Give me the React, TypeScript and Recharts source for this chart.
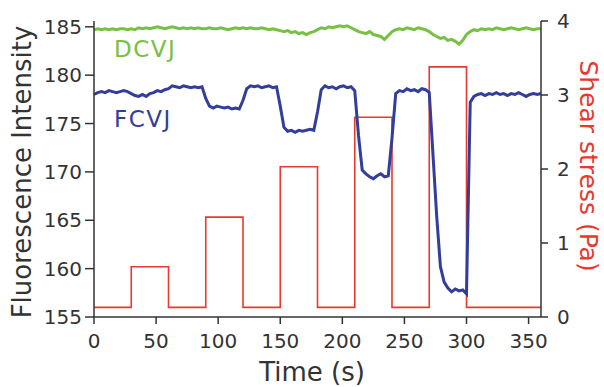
import { ComposedChart, Line, XAxis, YAxis } from "recharts";

// time grid (s)
const times = [
  0, 3, 6, 9, 12, 15, 18, 21, 24, 27,
  30, 33, 36, 39, 42, 45, 48, 51, 54, 57,
  60, 63, 66, 69, 72, 75, 78, 81, 84, 87,
  90, 93, 96, 99, 102, 105, 108, 111, 114, 117,
  120, 123, 126, 129, 132, 135, 138, 141, 144, 147,
  150, 153, 156, 159, 162, 165, 168, 171, 174, 177,
  180, 183, 186, 189, 192, 195, 198, 201, 204, 207,
  210, 213, 216, 219, 222, 225, 228, 231, 234, 237,
  240, 243, 246, 249, 252, 255, 258, 261, 264, 267,
  270, 273, 276, 279, 282, 285, 288, 291, 294, 297,
  300, 303, 306, 309, 312, 315, 318, 321, 324, 327,
  330, 333, 336, 339, 342, 345, 348, 351, 354, 357,
  360,
];

const dcvj = [
  184.7, 184.8, 184.7, 184.8, 184.7, 184.8, 184.7, 184.8, 184.8, 184.7,
  184.8, 184.7, 184.9, 184.8, 184.9, 184.8, 184.9, 185.0, 184.9, 184.8,
  184.9, 185.0, 184.9, 184.8, 184.9, 184.8, 184.9, 184.8, 184.9, 184.8,
  184.8, 184.9, 184.8, 184.8, 184.9, 184.8, 184.7, 184.8, 184.9, 184.8,
  184.9, 184.8, 184.9, 184.8, 184.8, 184.9, 184.8, 184.7, 184.8, 184.7,
  184.6, 184.5, 184.6, 184.4, 184.5, 184.3, 184.4, 184.2, 184.4, 184.5,
  184.7, 184.9, 184.8, 185.0, 184.9, 185.0, 185.1, 185.0, 185.1, 184.9,
  184.7, 184.5, 184.4, 184.3, 184.5, 184.2, 184.1, 184.0, 183.7, 184.1,
  184.5, 184.7, 184.8, 184.7, 184.9, 184.8, 184.7, 184.9, 184.8, 184.7,
  184.5, 184.2, 184.0, 183.8, 183.9, 183.6, 183.7, 183.5, 183.2, 183.6,
  184.2, 184.5, 184.7, 184.6, 184.8, 184.7, 184.8, 184.7, 184.9, 184.8,
  184.7, 184.8, 184.9, 184.8, 184.7, 184.8, 184.9, 184.8, 184.7, 184.8,
  184.8,
];

const fcvj = [
  178.0, 178.2, 178.3, 178.2, 178.4, 178.3, 178.2, 178.3, 178.4, 178.3,
  178.1, 177.9, 177.8, 178.0, 177.8, 178.1, 178.2, 178.4, 178.3, 178.5,
  178.6, 178.9, 178.8, 178.7, 178.9, 178.8, 178.7, 178.8, 178.7, 178.8,
  177.6, 176.8, 176.6, 176.8, 176.7, 176.6, 176.7, 176.5, 176.6, 176.5,
  177.4, 178.6, 178.9, 178.8, 178.9, 178.7, 178.8, 178.9, 178.7, 178.8,
  176.8, 174.6, 174.2, 174.3, 174.1, 174.3, 174.2, 174.3, 174.4, 174.3,
  176.2, 178.5, 178.9, 178.7, 178.8, 178.6, 178.8, 178.9, 178.7, 178.8,
  178.4, 173.8, 170.2, 169.8, 169.5, 169.3, 169.6, 169.8, 169.5, 169.6,
  173.5, 178.1, 178.4, 178.3, 178.6, 178.4, 178.5, 178.3, 178.6, 178.5,
  178.2, 171.8, 165.4, 160.2, 158.6, 158.0, 157.6, 157.9, 157.7, 157.8,
  157.4, 177.2, 177.8, 178.0, 178.1, 177.9, 178.1, 178.0, 178.2, 178.0,
  178.1, 177.9, 178.1, 178.0, 178.2, 178.0, 177.8, 178.0, 178.1, 178.0,
  178.1,
];

// shear stress steps (Pa), value holds until next time
const stressTimes = [0, 30, 60, 90, 120, 150, 180, 210, 240, 270, 300, 360];
const stressValues = [0.13, 0.68, 0.13, 1.35, 0.13, 2.03, 0.13, 2.7, 0.13, 3.38, 0.13, 0.13];

const xTicks = [0, 50, 100, 150, 200, 250, 300, 350];
const leftTicks = [155, 160, 165, 170, 175, 180, 185];
const rightTicks = [0, 1, 2, 3, 4];

const fluoData = times.map((t, i) => ({ t, dcvj: dcvj[i], fcvj: fcvj[i] }));
const stressData = stressTimes.map((t, i) => ({ t, stress: stressValues[i] }));

const FONT = "DejaVu Sans";
const AXIS = "#333";
const GREEN = "#78c043";
const BLUE = "#333d9c";
const RED = "#e8392f";

const tickStyle = { fill: AXIS, fontSize: 20, fontFamily: FONT };

export default function App() {
  return (
    <div style={{ position: "absolute", left: 0, top: 0, background: "#fff" }}>
      <ComposedChart
        width={604}
        height={387}
        data={fluoData}
        margin={{ top: 21, right: 0, bottom: 0, left: 0 }}
      >
        <XAxis
          dataKey="t"
          type="number"
          domain={[0, 360]}
          ticks={xTicks}
          height={70}
          tickSize={7}
          tickMargin={10}
          stroke={AXIS}
          strokeWidth={1.5}
          tick={tickStyle}
        />
        <YAxis
          yAxisId="left"
          domain={[155, 185.6]}
          ticks={leftTicks}
          width={94}
          tickSize={9}
          tickMargin={3}
          stroke={AXIS}
          strokeWidth={1.5}
          tick={tickStyle}
        />
        <YAxis
          yAxisId="right"
          orientation="right"
          domain={[0, 4]}
          ticks={rightTicks}
          width={63}
          tickSize={7}
          tickMargin={9}
          stroke={AXIS}
          strokeWidth={1.5}
          tick={tickStyle}
        />
        <Line
          yAxisId="right"
          data={stressData}
          dataKey="stress"
          type="stepAfter"
          stroke={RED}
          strokeWidth={1.6}
          dot={false}
          isAnimationActive={false}
        />
        <Line
          yAxisId="left"
          dataKey="dcvj"
          type="linear"
          stroke={GREEN}
          strokeWidth={3}
          dot={false}
          isAnimationActive={false}
        />
        <Line
          yAxisId="left"
          dataKey="fcvj"
          type="linear"
          stroke={BLUE}
          strokeWidth={3}
          dot={false}
          isAnimationActive={false}
        />
        <text x={114} y={57} fill={GREEN} fontSize={23} fontFamily={FONT} letterSpacing={1.5}>
          DCVJ
        </text>
        <text x={114} y={127} fill={BLUE} fontSize={23} fontFamily={FONT} letterSpacing={1.5}>
          FCVJ
        </text>
        <text
          x={312}
          y={381}
          textAnchor="middle"
          fill={AXIS}
          fontSize={26}
          fontFamily={FONT}
        >
          Time (s)
        </text>
        <text
          transform="translate(22,172) rotate(-90)"
          textAnchor="middle"
          dominantBaseline="central"
          fill={AXIS}
          fontSize={26}
          fontFamily={FONT}
        >
          Fluorescence Intensity
        </text>
        <text
          transform="translate(588,166) rotate(90)"
          textAnchor="middle"
          dominantBaseline="central"
          fill={RED}
          fontSize={25}
          fontFamily={FONT}
        >
          Shear stress (Pa)
        </text>
      </ComposedChart>
    </div>
  );
}
